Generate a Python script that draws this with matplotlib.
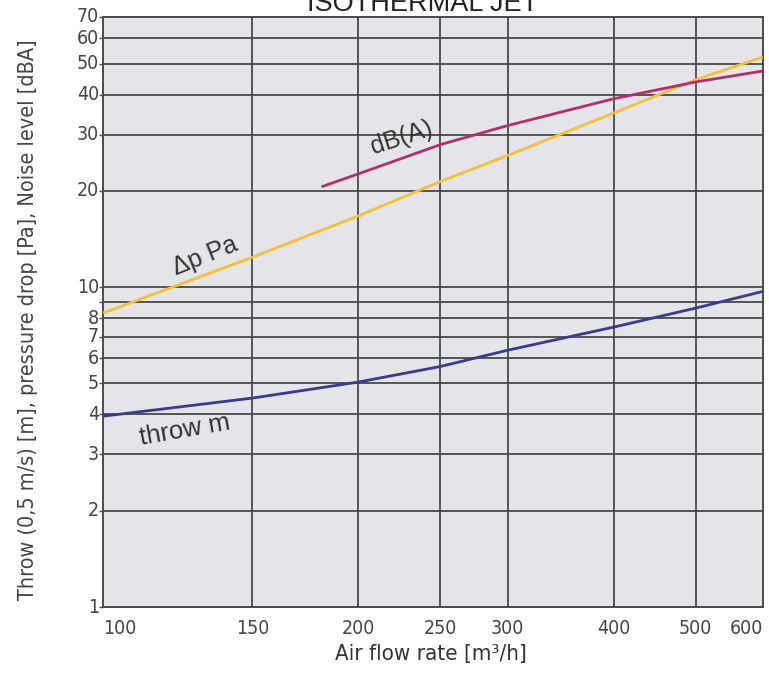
import matplotlib
matplotlib.use("Agg")
import matplotlib.pyplot as plt
from matplotlib import font_manager as fm
from matplotlib.ticker import FixedLocator, NullFormatter, NullLocator

# Air flow rate [m3/h] and readings for each curve
flow_db = [181, 200, 250, 300, 400, 500, 600]
noise_db = [20.6, 22.6, 27.9, 32.0, 38.8, 43.8, 47.4]

flow_dp = [100, 150, 200, 250, 300, 400, 500, 600]
pressure_pa = [8.3, 12.4, 16.7, 21.4, 25.8, 35.0, 44.5, 52.4]

flow_throw = [100, 150, 200, 250, 300, 400, 500, 600]
throw_m = [3.95, 4.5, 5.05, 5.65, 6.35, 7.5, 8.6, 9.7]

x_ticks = [100, 150, 200, 250, 300, 400, 500, 600]
y_grid = [1, 2, 3, 4, 5, 6, 7, 8, 9, 10, 20, 30, 40, 50, 60, 70]
y_labels = [1, 2, 3, 4, 5, 6, 7, 8, 10, 20, 30, 40, 50, 60, 70]


def narrow_face():
    """Path of a narrow sans face if one is installed."""
    fonts = fm.fontManager.ttflist
    for f in fonts:
        if f.name == "Liberation Sans Narrow" and f.style == "normal" and f.weight in (400, "normal", "regular"):
            return f.fname
    for f in fonts:
        if f.name == "DejaVu Sans" and str(f.stretch) in ("condensed", "semi-condensed") \
                and f.style == "normal" and f.weight in (400, "normal", "regular"):
            return f.fname
    return None


NARROW_PATH = narrow_face()


def narrow(size):
    if NARROW_PATH:
        return fm.FontProperties(fname=NARROW_PATH, size=size)
    return fm.FontProperties(family=["Liberation Sans", "DejaVu Sans"], size=size * 0.88)


plt.rcParams["font.family"] = ["Liberation Sans", "DejaVu Sans"]

fig = plt.figure(figsize=(7.69, 6.73), dpi=100)
ax = fig.add_axes([0.134, 0.098, 0.858, 0.877])
ax.set_facecolor("#e4e4e9")
ax.set_xscale("log")
ax.set_yscale("log")
ax.set_xlim(100, 600)
ax.set_ylim(1, 70)

grid_col = "#4a4a4a"
for v in x_ticks[1:-1]:
    ax.axvline(v, color=grid_col, lw=1.3, zorder=1)
for v in y_grid[1:-1]:
    ax.axhline(v, color=grid_col, lw=1.3, zorder=1)
for s in ax.spines.values():
    s.set_color(grid_col)
    s.set_linewidth(1.4)

ax.xaxis.set_major_locator(NullLocator())
ax.xaxis.set_minor_locator(NullLocator())
ax.yaxis.set_major_locator(FixedLocator(y_grid))
ax.yaxis.set_minor_locator(NullLocator())
ax.yaxis.set_major_formatter(NullFormatter())
ax.tick_params(axis="y", length=3, width=1, color=grid_col)

tick_col = "#444444"
for v in x_ticks:
    ha = "left" if v == x_ticks[0] else ("right" if v == x_ticks[-1] else "center")
    ax.text(v, -0.036, str(v), ha=ha, va="center", fontproperties=narrow(14),
            color=tick_col, transform=ax.get_xaxis_transform())
for v in y_labels:
    ax.text(-0.006, v, str(v), ha="right", va="center", fontproperties=narrow(14),
            color=tick_col, transform=ax.get_yaxis_transform())

ax.plot(flow_dp, pressure_pa, color="#f2c236", lw=2.0, zorder=3, solid_capstyle="butt")
ax.plot(flow_db, noise_db, color="#b0306e", lw=2.0, zorder=4, solid_capstyle="butt")
ax.plot(flow_throw, throw_m, color="#3b3b8e", lw=2.0, zorder=4, solid_capstyle="butt")

label_col = "#333333"
ax.text(225, 29.3, "dB(A)", rotation=18, fontsize=18, color=label_col,
        ha="center", va="center", rotation_mode="anchor")
ax.text(132, 12.5, "Δp Pa", rotation=22, fontsize=18, color=label_col,
        ha="center", va="center", rotation_mode="anchor")
ax.text(125, 3.57, "throw m", rotation=10, fontsize=18.5, color=label_col,
        ha="center", va="center", rotation_mode="anchor")

fig.text(0.561, 0.0195, "Air flow rate [m³/h]", ha="center", va="baseline",
         fontproperties=narrow(16), color="#333333")
fig.text(0.036, 0.525, "Throw (0,5 m/s) [m], pressure drop [Pa], Noise level [dBA]",
         rotation=90, ha="center", va="center", fontproperties=narrow(15.5), color="#444444")
fig.text(0.549, 0.9837, "ISOTHERMAL JET", ha="center", va="baseline",
         fontsize=19.5, color="#222222")

fig.savefig("out.png", dpi=100, facecolor="white")
